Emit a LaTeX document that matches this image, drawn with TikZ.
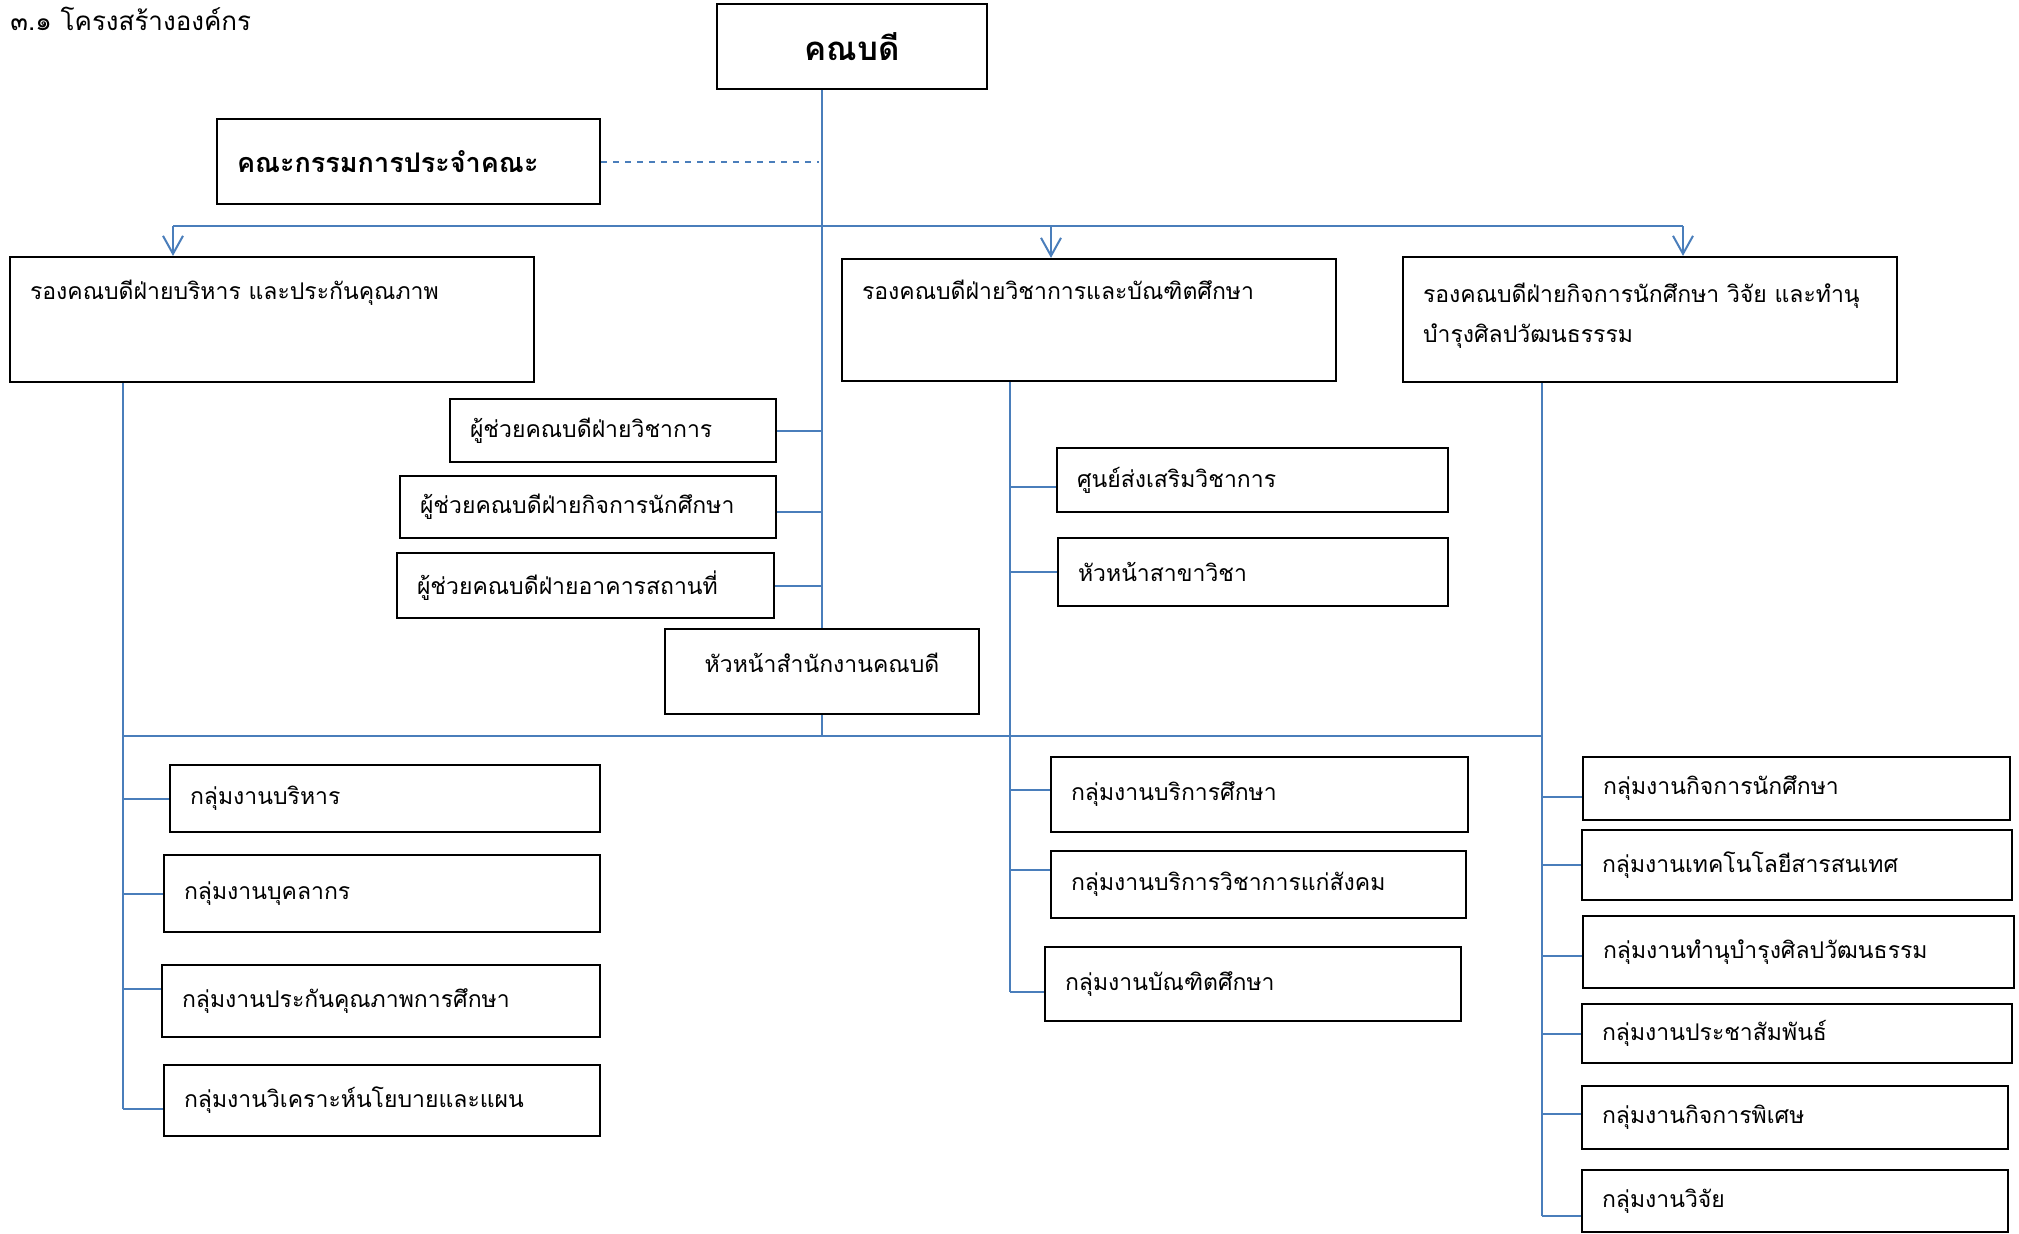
\documentclass[tikz,border=0pt]{standalone}
\usepackage{fontspec}
\setmainfont[Script=Thai]{Loma}
\usetikzlibrary{arrows.meta}
\definecolor{linkblue}{RGB}{74,126,187}
\begin{document}
\begin{tikzpicture}[x=0.5pt, y=-0.5pt,
        box/.style={draw, line width=1.1pt, inner xsep=10pt, inner ysep=2pt, align=left, font=\fontsize{11.5}{20}\selectfont},
        link/.style={draw=linkblue, line width=1pt},
        down/.style={link, -{Straight Barb[length=9pt, width=10pt]}}]
        \useasboundingbox (0, 0) rectangle (2019, 1233);
        \node[anchor=north west, inner sep=0pt, font=\fontsize{13}{20}\selectfont] (title) at (10, 7) {๓.๑ โครงสร้างองค์กร};
        % top level
        \node[box, align=center, text width=115pt, minimum height=42.5pt, font=\fontsize{16.5}{20}\selectfont\bfseries] (dean) at (852, 46.5) {คณบดี};
        \node[box, text width=171.5pt, minimum height=42.5pt, font=\fontsize{13.5}{20}\selectfont\bfseries] (board) at (408.5, 161.5) {คณะกรรมการประจำคณะ};
        \node[box, text width=242pt, minimum height=62.5pt, text depth=30pt] (vpadm) at (272, 319.5) {รองคณบดีฝ่ายบริหาร และประกันคุณภาพ};
        \node[box, text width=227pt, minimum height=61pt, text depth=30pt] (vpacad) at (1089, 320) {รองคณบดีฝ่ายวิชาการและบัณฑิตศึกษา};
        \node[box, text width=227pt, minimum height=62.5pt, text depth=27pt] (vpstu) at (1650, 319.5) {รองคณบดีฝ่ายกิจการนักศึกษา วิจัย และทำนุ\\บำรุงศิลปวัฒนธรรรม};
        % assistants and office
        \node[box, text width=143pt, minimum height=31.5pt] (asst1) at (613, 430.5) {ผู้ช่วยคณบดีฝ่ายวิชาการ};
        \node[box, text width=168pt, minimum height=31pt] (asst2) at (588, 507) {ผู้ช่วยคณบดีฝ่ายกิจการนักศึกษา};
        \node[box, text width=168.5pt, minimum height=32.5pt] (asst3) at (585.5, 585.5) {ผู้ช่วยคณบดีฝ่ายอาคารสถานที่};
        \node[box, align=center, text width=137pt, minimum height=42.5pt, text depth=9pt] (office) at (822, 671.5) {หัวหน้าสำนักงานคณบดี};
        \node[box, text width=175.5pt, minimum height=32pt] (promo) at (1252.5, 480) {ศูนย์ส่งเสริมวิชาการ};
        \node[box, text width=175pt, minimum height=34pt] (heads) at (1253, 572) {หัวหน้าสาขาวิชา};
        % left groups
        \node[box, text width=195pt, minimum height=33.5pt] (g1) at (385, 798.5) {กลุ่มงานบริหาร};
        \node[box, text width=198pt, minimum height=38.5pt] (g2) at (382, 893.5) {กลุ่มงานบุคลากร};
        \node[box, text width=199pt, minimum height=36pt] (g3) at (381, 1001) {กลุ่มงานประกันคุณภาพการศึกษา};
        \node[box, text width=198pt, minimum height=35.5pt] (g4) at (382, 1100.5) {กลุ่มงานวิเคราะห์นโยบายและแผน};
        % middle groups
        \node[box, text width=188.5pt, minimum height=37.5pt] (m1) at (1259.5, 794.5) {กลุ่มงานบริการศึกษา};
        \node[box, text width=187.5pt, minimum height=33.5pt] (m2) at (1258.5, 884.5) {กลุ่มงานบริการวิชาการแก่สังคม};
        \node[box, text width=188pt, minimum height=37pt] (m3) at (1253, 984) {กลุ่มงานบัณฑิตศึกษา};
        % right groups
        \node[box, text width=193.5pt, minimum height=31.5pt] (r1) at (1796.5, 788.5) {กลุ่มงานกิจการนักศึกษา};
        \node[box, text width=195pt, minimum height=35pt] (r2) at (1797, 865) {กลุ่มงานเทคโนโลยีสารสนเทศ};
        \node[box, text width=195.5pt, minimum height=36pt] (r3) at (1798.5, 952) {กลุ่มงานทำนุบำรุงศิลปวัฒนธรรม};
        \node[box, text width=195pt, minimum height=29.5pt] (r4) at (1797, 1033.5) {กลุ่มงานประชาสัมพันธ์};
        \node[box, text width=193pt, minimum height=31.5pt] (r5) at (1795, 1117.5) {กลุ่มงานกิจการพิเศษ};
        \node[box, text width=193pt, minimum height=31pt] (r6) at (1795, 1201) {กลุ่มงานวิจัย};
        % bus points
        \coordinate (busL) at (173, 226);
        \coordinate (busM) at (1051, 226);
        \coordinate (busR) at (1683, 226);
        \coordinate (colL) at (123, 736);
        \coordinate (colM) at (1010, 736);
        \coordinate (colR) at (1542, 736);
        % upper connectors
        \draw[link] (dean.south -| office.north) -- (office.north);
        \draw[link, dashed] (board.east) -- ([xshift=-1.5pt]board.east -| office.north);
        \draw[link] (busL) -- (busR);
        \draw[down] (busL) -- (busL |- vpadm.north);
        \draw[down] (busM) -- (busM |- vpacad.north);
        \draw[down] (busR) -- (busR |- vpstu.north);
        \draw[link] (asst1.east) -- (asst1.east -| office.north);
        \draw[link] ([yshift=-2.5pt]asst2.east) -- ([yshift=-2.5pt]asst2.east -| office.north);
        \draw[link] (asst3.east) -- (asst3.east -| office.north);
        % lower connectors
        \draw[link] (office.south) -- (office.south |- colL);
        \draw[link] (colL) -- (colR);
        \draw[link] (colL |- vpadm.south) -- ([yshift=-4pt]colL |- g4.west);
        \draw[link] (colM |- vpacad.south) -- ([yshift=-4pt]colM |- m3.west);
        \draw[link] (colR |- vpstu.south) -- ([yshift=-7.5pt]colR |- r6.west);
        \draw[link] (colL |- g1.west) -- (g1.west);
        \draw[link] (colL |- g2.west) -- (g2.west);
        \draw[link] ([yshift=6pt]colL |- g3.west) -- ([yshift=6pt]g3.west);
        \draw[link] ([yshift=-4pt]colL |- g4.west) -- ([yshift=-4pt]g4.west);
        \draw[link] ([yshift=-3.5pt]colM |- promo.west) -- ([yshift=-3.5pt]promo.west);
        \draw[link] (colM |- heads.west) -- (heads.west);
        \draw[link] ([yshift=2.5pt]colM |- m1.west) -- ([yshift=2.5pt]m1.west);
        \draw[link] ([yshift=7.5pt]colM |- m2.west) -- ([yshift=7.5pt]m2.west);
        \draw[link] ([yshift=-4pt]colM |- m3.west) -- ([yshift=-4pt]m3.west);
        \draw[link] ([yshift=-4pt]colR |- r1.west) -- ([yshift=-4pt]r1.west);
        \draw[link] (colR |- r2.west) -- (r2.west);
        \draw[link] ([yshift=-2pt]colR |- r3.west) -- ([yshift=-2pt]r3.west);
        \draw[link] (colR |- r4.west) -- (r4.west);
        \draw[link] ([yshift=2pt]colR |- r5.west) -- ([yshift=2pt]r5.west);
        \draw[link] ([yshift=-7.5pt]colR |- r6.west) -- ([yshift=-7.5pt]r6.west);
    \end{tikzpicture}
\end{document}
